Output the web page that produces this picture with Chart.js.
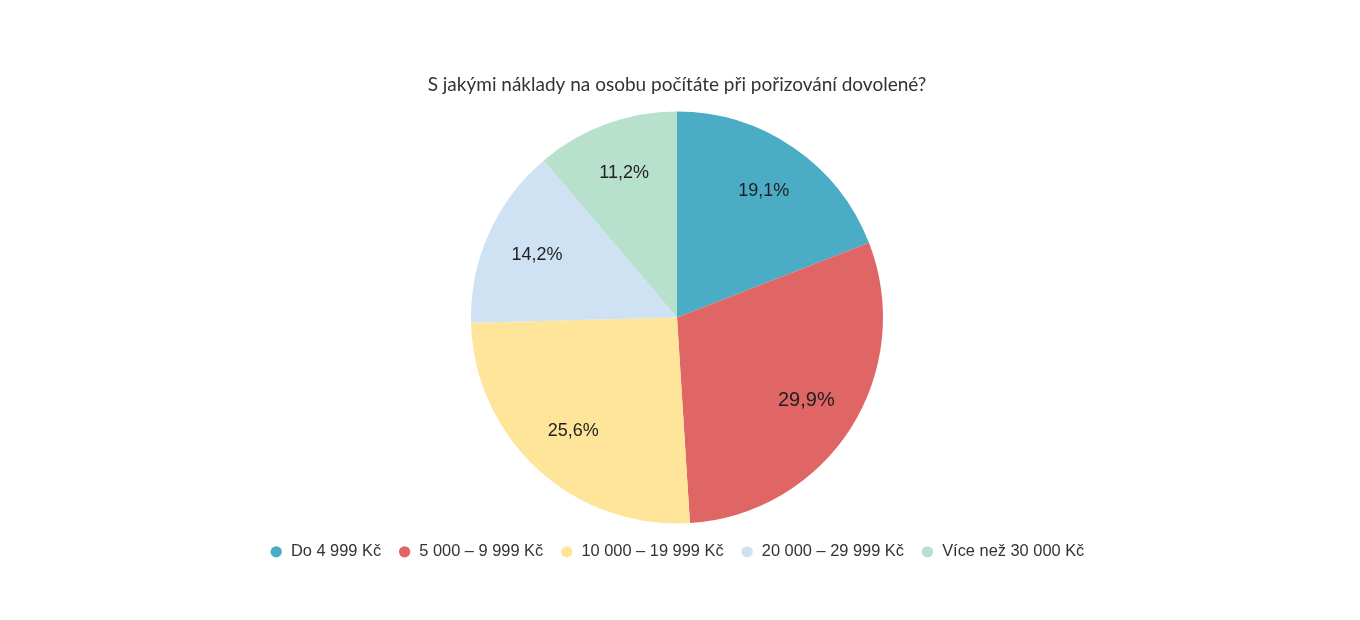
<!DOCTYPE html>
<html>
<head>
<meta charset="utf-8">
<script src="https://cdn.jsdelivr.net/npm/chart.js@4"></script>
<style>
  html, body { margin: 0; padding: 0; background: #ffffff; }
  #wrap { width: 1360px; height: 620px; position: relative; }
</style>
</head>
<body>
<div id="wrap"><canvas id="c" width="1360" height="620"></canvas></div>
<script>
const titleText = 'S jakými náklady na osobu počítáte při pořizování dovolené?';
const categories = ['Do 4 999 Kč', '5 000 – 9 999 Kč', '10 000 – 19 999 Kč', '20 000 – 29 999 Kč', 'Více než 30 000 Kč'];
const values = [19.1, 29.9, 25.6, 14.2, 11.2];
const valueLabels = ['19,1%', '29,9%', '25,6%', '14,2%', '11,2%'];
const colors = ['#4BACC6', '#E06666', '#FFE599', '#CFE2F3', '#B7E1CD'];

const sliceLabels = {
  id: 'sliceLabels',
  afterDatasetsDraw(chart) {
    const ctx = chart.ctx;
    const meta = chart.getDatasetMeta(0);
    const maxV = Math.max(...values);
    ctx.save();
    ctx.textAlign = 'center';
    ctx.textBaseline = 'middle';
    ctx.fillStyle = '#1f1f1f';
    meta.data.forEach((arc, i) => {
      const p = arc.getProps(['x', 'y', 'startAngle', 'endAngle', 'outerRadius'], true);
      const mid = (p.startAngle + p.endAngle) / 2;
      const r = p.outerRadius * 0.745;
      const size = values[i] === maxV ? 20 : 18;
      ctx.font = size + 'px "Liberation Sans", Arial, sans-serif';
      ctx.fillText(valueLabels[i], p.x + Math.cos(mid) * r, p.y + Math.sin(mid) * r);
    });
    ctx.restore();
  }
};

new Chart(document.getElementById('c'), {
  type: 'pie',
  data: {
    labels: categories,
    datasets: [{
      data: values,
      backgroundColor: colors,
      borderWidth: 0,
      radius: 206
    }]
  },
  options: {
    responsive: false,
    animation: false,
    layout: { padding: { top: 64, bottom: 50, left: 0, right: 6 } },
    plugins: {
      title: {
        display: true,
        text: titleText,
        color: '#333333',
        font: { family: 'Lato', size: 19, weight: 'normal' },
        padding: { top: 9.5, bottom: 12 }
      },
      legend: {
        position: 'bottom',
        labels: {
          usePointStyle: true,
          pointStyle: 'circle',
          boxWidth: 13,
          boxHeight: 8,
          padding: 17,
          color: '#333333',
          font: { family: 'Liberation Sans', size: 16.4 }
        }
      },
      tooltip: { enabled: false }
    }
  },
  plugins: [sliceLabels]
});
</script>
</body>
</html>
